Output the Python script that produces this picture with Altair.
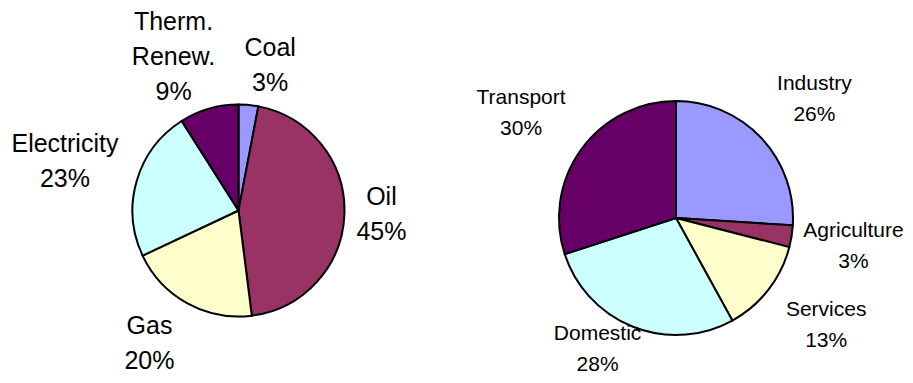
import altair as alt
import pandas as pd

# ---- data ----
left_names = ["Coal", "Oil", "Gas", "Electricity", "Therm. Renew."]
left_values = [3, 45, 20, 23, 9]
right_names = ["Industry", "Agriculture", "Services", "Domestic", "Transport"]
right_values = [26, 3, 13, 28, 30]

# ---- style ----
slice_colors = ["#9999FF", "#993366", "#FFFFCC", "#CCFFFF", "#660066"]
W, H = 897, 367
FONT = "Liberation Sans"
SPREAD = 18  # horizontal spreading of labels near the top / bottom of a pie


def width_expr(s, font):
    narrow = f"(length({s}) - length(replace({s}, regexp('[iljtfrI.]','g'), '')))"
    wide = f"(length({s}) - length(replace({s}, regexp('[mwMW%]','g'), '')))"
    return f"((0.556*length({s}) - 0.3*{narrow} + 0.3*{wide})*{font})"


def pie(names, values, cx, cy, R, font, lh, gap):
    df = pd.DataFrame({"name": names, "value": values, "idx": list(range(len(names)))})
    base = alt.Chart(df)
    arcs = base.mark_arc(radius=R, stroke="black", strokeWidth=2).encode(
        theta=alt.Theta("value:Q", stack=True),
        color=alt.Color("name:N", scale=alt.Scale(domain=names, range=slice_colors), legend=None),
        order=alt.Order("idx:Q"),
        x=alt.value(cx),
        y=alt.value(cy),
    )

    def lw(i):
        return width_expr(f"(datum.lines[{i}] || '')", font)

    top = 0.55 * font
    bottom = H - 0.5 * font
    labels = (
        base.transform_joinaggregate(total="sum(value)")
        .transform_window(cum="sum(value)", sort=[alt.SortField("idx")], frame=[None, 0])
        .transform_calculate(
            mid="2*PI*(datum.cum - datum.value/2)/datum.total",
            label="datum.name + ' ' + datum.value + '%'",
        )
        .transform_calculate(lines="split(datum.label, ' ')")
        .transform_calculate(
            n="length(datum.lines)",
            hw=f"max({lw(0)}, {lw(1)}, {lw(2)})/2",
        )
        .transform_calculate(
            hh=f"((datum.n-1)*{lh} + {0.72 * font})/2",
        )
        .transform_calculate(
            r=f"{R + gap} + datum.hw*abs(sin(datum.mid)) + datum.hh*abs(cos(datum.mid))"
        )
        .transform_calculate(
            lx0=(
                f"{cx} + datum.r*sin(datum.mid)"
                f" + (sin(datum.mid) >= 0 ? 1 : -1)*{SPREAD}*abs(cos(datum.mid))"
            ),
            ly=(
                f"min(max({cy} - datum.r*cos(datum.mid) - (datum.n-1)*{lh}/2, {top}),"
                f" {bottom} - (datum.n-1)*{lh})"
            ),
        )
        .transform_calculate(
            lx=f"min(max(datum.lx0, datum.hw + 3), {W} - datum.hw - 3)"
        )
        .mark_text(
            font=FONT, fontSize=font, lineHeight=lh, lineBreak=" ",
            align="center", baseline="middle", color="black",
        )
        .encode(
            x=alt.X("lx:Q", scale=None, axis=None),
            y=alt.Y("ly:Q", scale=None, axis=None),
            text="label:N",
        )
    )
    return arcs, labels


la, ll = pie(left_names, left_values, 230.5, 202.5, 106, 25, 35, 11)
ra, rl = pie(right_names, right_values, 668, 210, 117, 21, 31, 13)

chart = (
    alt.layer(la, ll, ra, rl)
    .resolve_scale(color="independent")
    .properties(width=W, height=H, autosize=alt.AutoSizeParams(type="none"), padding=0)
    .configure_view(strokeWidth=0)
)

chart.save("out.html", embed_options={"renderer": "svg", "actions": False})
